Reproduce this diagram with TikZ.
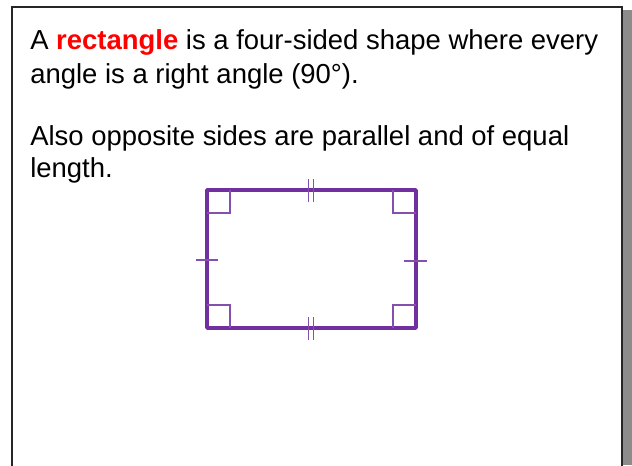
\documentclass[tikz,border=0pt]{standalone}
\usepackage{fontspec}
\setmainfont{Liberation Sans}
\usepackage{xcolor}
\usetikzlibrary{positioning}
\definecolor{rectpurple}{RGB}{112, 48, 160}
\definecolor{keyred}{RGB}{255, 0, 0}

\begin{document}
\begin{tikzpicture}[x=0.75pt, y=-0.75pt,
  para/.style={anchor=base west, inner sep=0pt, align=left,
    font=\fontsize{20.6}{25.5}\selectfont},
  side/.style={draw=rectpurple, line width=2.6pt, line join=round},
  tickmark/.style={draw=rectpurple!85, line width=0.9pt}
]
  \useasboundingbox (0,0) rectangle (632,465);
  % slide frame and its shadow
  \fill[gray!90] (623,10) rectangle (632,465);
  \draw[line width=1pt, black!85] (12,470) -- (12,7) -- (622,7) -- (622,470);

  \node[para] (def) at (30,83) {A \textcolor{keyred}{\textbf{rectangle}} is a four-sided shape where every\\
    angle is a right angle (90\textdegree).};
  \node[para, font=\fontsize{20.6}{23.4}\selectfont] (also) at (30,177) {Also opposite sides are parallel and of equal\\
    length.};

  % the rectangle
  \coordinate (tl) at (207,190);
  \coordinate (tr) at (416,190);
  \coordinate (br) at (416,328);
  \coordinate (bl) at (207,328);
  \draw[side] (tl) -- (tr) -- (br) -- (bl) -- cycle;

  % right angles
  \draw[tickmark] ([xshift=23*0.75pt]tl) |- ([yshift=-23*0.75pt]tl);
  \draw[tickmark] ([xshift=-23*0.75pt]tr) |- ([yshift=-23*0.75pt]tr);
  \draw[tickmark] ([xshift=23*0.75pt]bl) |- ([yshift=23*0.75pt]bl);
  \draw[tickmark] ([xshift=-23*0.75pt]br) |- ([yshift=23*0.75pt]br);

  % equal sides
  \foreach \x in {308.5,313.5} {
    \draw[tickmark] (\x,179) -- (\x,202);
    \draw[tickmark] (\x,317) -- (\x,340);
  }
  \draw[tickmark] (196,260) -- (218,260);
  \draw[tickmark] (404,261) -- (427,261);
\end{tikzpicture}
\end{document}
